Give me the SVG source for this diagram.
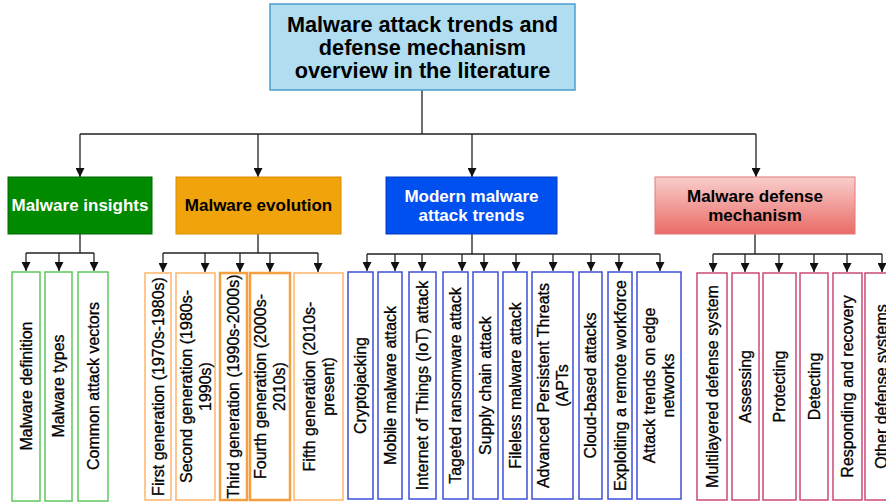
<svg xmlns="http://www.w3.org/2000/svg" width="886" height="504" viewBox="0 0 886 504">
<defs>
<marker id="arr" viewBox="0 0 10 10" refX="10" refY="5" markerWidth="9" markerHeight="9" markerUnits="userSpaceOnUse" orient="auto">
<path d="M0,0 L10,5 L0,10 z" fill="#111"/>
</marker>
<linearGradient id="pinkg" x1="0" y1="0" x2="0" y2="1">
<stop offset="0" stop-color="#f8cecc"/>
<stop offset="1" stop-color="#ea6b66"/>
</linearGradient>
<style>
.t{font-family:"Liberation Sans",Arial,sans-serif;}
.title{font-size:21.7px;font-weight:bold;fill:#000;text-anchor:middle;}
.cat{font-size:17px;font-weight:bold;text-anchor:middle;}
.leaf{font-size:16px;fill:#000;stroke:#000;stroke-width:0.3;text-anchor:middle;}
.conn{fill:none;stroke:#222;stroke-width:1.3;}
.arrow{marker-end:url(#arr);}
.lg{fill:#fff;stroke:#5cc95c;stroke-width:1.5;}
.lo{fill:#fff;stroke:#ffb46a;stroke-width:1.5;}
.lo2{fill:#fff;stroke:#f5a040;stroke-width:2.5;}
.lb{fill:#fff;stroke:#3d4fd8;stroke-width:1.5;}
.lp{fill:#fff;stroke:#cc4a78;stroke-width:1.5;}
</style>
</defs>
<rect width="886" height="504" fill="#fff"/>

<g id="connectors">
<path class="conn" d="M422,90 V134 M80,134 H756"/>
<path class="conn arrow" d="M80,134 V177"/>
<path class="conn arrow" d="M258,134 V177"/>
<path class="conn arrow" d="M472,134 V177"/>
<path class="conn arrow" d="M756,134 V177"/>

<path class="conn" d="M80,234 V253 M26,253 H94"/>
<path class="conn arrow" d="M26,253 V271"/>
<path class="conn arrow" d="M59,253 V271"/>
<path class="conn arrow" d="M94,253 V271"/>

<path class="conn" d="M258,234 V253 M163,253 H318"/>
<path class="conn arrow" d="M163,253 V272"/>
<path class="conn arrow" d="M205,253 V272"/>
<path class="conn arrow" d="M240,253 V272"/>
<path class="conn arrow" d="M270,253 V272"/>
<path class="conn arrow" d="M318,253 V272"/>

<path class="conn" d="M472,234 V254 M367,254 H660"/>
<path class="conn arrow" d="M367,254 V271"/>
<path class="conn arrow" d="M395,254 V271"/>
<path class="conn arrow" d="M422,254 V271"/>
<path class="conn arrow" d="M462,254 V271"/>
<path class="conn arrow" d="M484,254 V271"/>
<path class="conn arrow" d="M516,254 V271"/>
<path class="conn arrow" d="M553,254 V271"/>
<path class="conn arrow" d="M591,254 V271"/>
<path class="conn arrow" d="M619,254 V271"/>
<path class="conn arrow" d="M660,254 V271"/>

<path class="conn" d="M755,234 V254 M713,254 H882"/>
<path class="conn arrow" d="M713,254 V272"/>
<path class="conn arrow" d="M745,254 V272"/>
<path class="conn arrow" d="M779,254 V272"/>
<path class="conn arrow" d="M814,254 V272"/>
<path class="conn arrow" d="M847,254 V272"/>
<path class="conn arrow" d="M882,254 V272"/>
</g>

<g id="root">
<rect x="270" y="4" width="305" height="86" fill="#b1ddf0" stroke="#4a9fd0" stroke-width="1.5"/>
<text class="t title" x="422.5" y="32">Malware attack trends and</text>
<text class="t title" x="422.5" y="55">defense mechanism</text>
<text class="t title" x="422.5" y="78">overview in the literature</text>
</g>

<g id="cat-insights">
<rect x="8" y="177" width="144" height="57" fill="#008a00" stroke="#006600" stroke-width="1"/>
<text class="t cat" x="80" y="211" fill="#fff">Malware insights</text>
</g>
<g id="cat-evolution">
<rect x="176" y="177" width="165" height="57" fill="#f0a30a" stroke="#d98c00" stroke-width="1"/>
<text class="t cat" x="258.5" y="211" fill="#000">Malware evolution</text>
</g>
<g id="cat-modern">
<rect x="386" y="177" width="171" height="57" fill="#0050ef" stroke="#0038c8" stroke-width="1"/>
<text class="t cat" x="471.5" y="202" fill="#fff">Modern malware</text>
<text class="t cat" x="471.5" y="221" fill="#fff">attack trends</text>
</g>
<g id="cat-defense">
<rect x="655" y="177" width="200" height="57" fill="url(#pinkg)" stroke="#e07a78" stroke-width="1"/>
<text class="t cat" x="755" y="202" fill="#000">Malware defense</text>
<text class="t cat" x="755" y="221" fill="#000">mechanism</text>
</g>

<g id="leaf-g1"><rect class="lg" x="12" y="272" width="28" height="229"/>
<text class="t leaf" transform="rotate(-90 26 386)" x="26" y="386" dy="0.35em">Malware definition</text></g>
<g id="leaf-g2"><rect class="lg" x="45" y="272" width="27" height="229"/>
<text class="t leaf" transform="rotate(-90 58.5 386)" x="58.5" y="386" dy="0.35em">Malware types</text></g>
<g id="leaf-g3"><rect class="lg" x="78" y="272" width="30" height="229"/>
<text class="t leaf" transform="rotate(-90 93 386)" x="93" y="386" dy="0.35em">Common attack vectors</text></g>

<g id="leaf-o1"><rect class="lo" x="145" y="273" width="26" height="227"/>
<text class="t leaf" transform="rotate(-90 158 386.5)" x="158" y="386.5" dy="0.35em">First generation (1970s-1980s)</text></g>
<g id="leaf-o2"><rect class="lo" x="176" y="273" width="39" height="227"/>
<text class="t leaf" transform="rotate(-90 195.5 386.5)" x="195.5" y="386.5"><tspan x="195.5" dy="-3.9">Second generation (1980s-</tspan><tspan x="195.5" dy="19">1990s)</tspan></text></g>
<g id="leaf-o3"><rect class="lo2" x="220" y="273" width="27" height="227"/>
<text class="t leaf" transform="rotate(-90 233.5 386.5)" x="233.5" y="386.5" dy="0.35em">Third generation (1990s-2000s)</text></g>
<g id="leaf-o4"><rect class="lo2" x="250" y="273" width="40" height="227"/>
<text class="t leaf" transform="rotate(-90 270 386.5)" x="270" y="386.5"><tspan x="270" dy="-3.9">Fourth generation (2000s-</tspan><tspan x="270" dy="19">2010s)</tspan></text></g>
<g id="leaf-o5"><rect class="lo" x="294" y="273" width="49" height="227"/>
<text class="t leaf" transform="rotate(-90 318.5 386.5)" x="318.5" y="386.5"><tspan x="318.5" dy="-3.9">Fifth generation (2010s-</tspan><tspan x="318.5" dy="19">present)</tspan></text></g>

<g id="leaf-b1"><rect class="lb" x="348" y="272" width="25" height="227"/>
<text class="t leaf" transform="rotate(-90 360.5 385.5)" x="360.5" y="385.5" dy="0.35em">Cryptojacking</text></g>
<g id="leaf-b2"><rect class="lb" x="378" y="272" width="24" height="227"/>
<text class="t leaf" transform="rotate(-90 390 385.5)" x="390" y="385.5" dy="0.35em">Mobile malware attack</text></g>
<g id="leaf-b3"><rect class="lb" x="409" y="272" width="27" height="227"/>
<text class="t leaf" transform="rotate(-90 422.5 385.5)" x="422.5" y="385.5" dy="0.35em">Internet of Things (IoT) attack</text></g>
<g id="leaf-b4"><rect class="lb" x="443" y="272" width="25" height="227"/>
<text class="t leaf" transform="rotate(-90 455.5 385.5)" x="455.5" y="385.5" dy="0.35em">Tageted ransomware attack</text></g>
<g id="leaf-b5"><rect class="lb" x="473" y="272" width="25" height="227"/>
<text class="t leaf" transform="rotate(-90 485.5 385.5)" x="485.5" y="385.5" dy="0.35em">Supply chain attack</text></g>
<g id="leaf-b6"><rect class="lb" x="503" y="272" width="24" height="227"/>
<text class="t leaf" transform="rotate(-90 515 385.5)" x="515" y="385.5" dy="0.35em">Fileless malware attack</text></g>
<g id="leaf-b7"><rect class="lb" x="532" y="272" width="41" height="227"/>
<text class="t leaf" transform="rotate(-90 552.5 385.5)" x="552.5" y="385.5"><tspan x="552.5" dy="-3.9">Advanced Persistent Threats</tspan><tspan x="552.5" dy="19">(APTs</tspan></text></g>
<g id="leaf-b8"><rect class="lb" x="579" y="272" width="23" height="227"/>
<text class="t leaf" transform="rotate(-90 590.5 385.5)" x="590.5" y="385.5" dy="0.35em">Cloud-based attacks</text></g>
<g id="leaf-b9"><rect class="lb" x="608" y="272" width="24" height="227"/>
<text class="t leaf" transform="rotate(-90 620 385.5)" x="620" y="385.5" dy="0.35em">Exploiting a remote workforce</text></g>
<g id="leaf-b10"><rect class="lb" x="637" y="272" width="44" height="227"/>
<text class="t leaf" transform="rotate(-90 659 385.5)" x="659" y="385.5"><tspan x="659" dy="-3.9">Attack trends on edge</tspan><tspan x="659" dy="19">networks</tspan></text></g>

<g id="leaf-p1"><rect class="lp" x="697" y="273" width="30" height="227"/>
<text class="t leaf" transform="rotate(-90 712 386.5)" x="712" y="386.5" dy="0.35em">Multilayered defense system</text></g>
<g id="leaf-p2"><rect class="lp" x="732" y="273" width="27" height="227"/>
<text class="t leaf" transform="rotate(-90 745.5 386.5)" x="745.5" y="386.5" dy="0.35em">Assessing</text></g>
<g id="leaf-p3"><rect class="lp" x="763" y="273" width="33" height="227"/>
<text class="t leaf" transform="rotate(-90 779.5 386.5)" x="779.5" y="386.5" dy="0.35em">Protecting</text></g>
<g id="leaf-p4"><rect class="lp" x="800" y="273" width="28" height="227"/>
<text class="t leaf" transform="rotate(-90 814 386.5)" x="814" y="386.5" dy="0.35em">Detecting</text></g>
<g id="leaf-p5"><rect class="lp" x="833" y="273" width="29" height="227"/>
<text class="t leaf" transform="rotate(-90 847.5 386.5)" x="847.5" y="386.5" dy="0.35em">Responding and recovery</text></g>
<g id="leaf-p6"><rect class="lp" x="865" y="273" width="32" height="227"/>
<text class="t leaf" transform="rotate(-90 881 386.5)" x="881" y="386.5" dy="0.35em">Other defense systems</text></g>
</svg>
